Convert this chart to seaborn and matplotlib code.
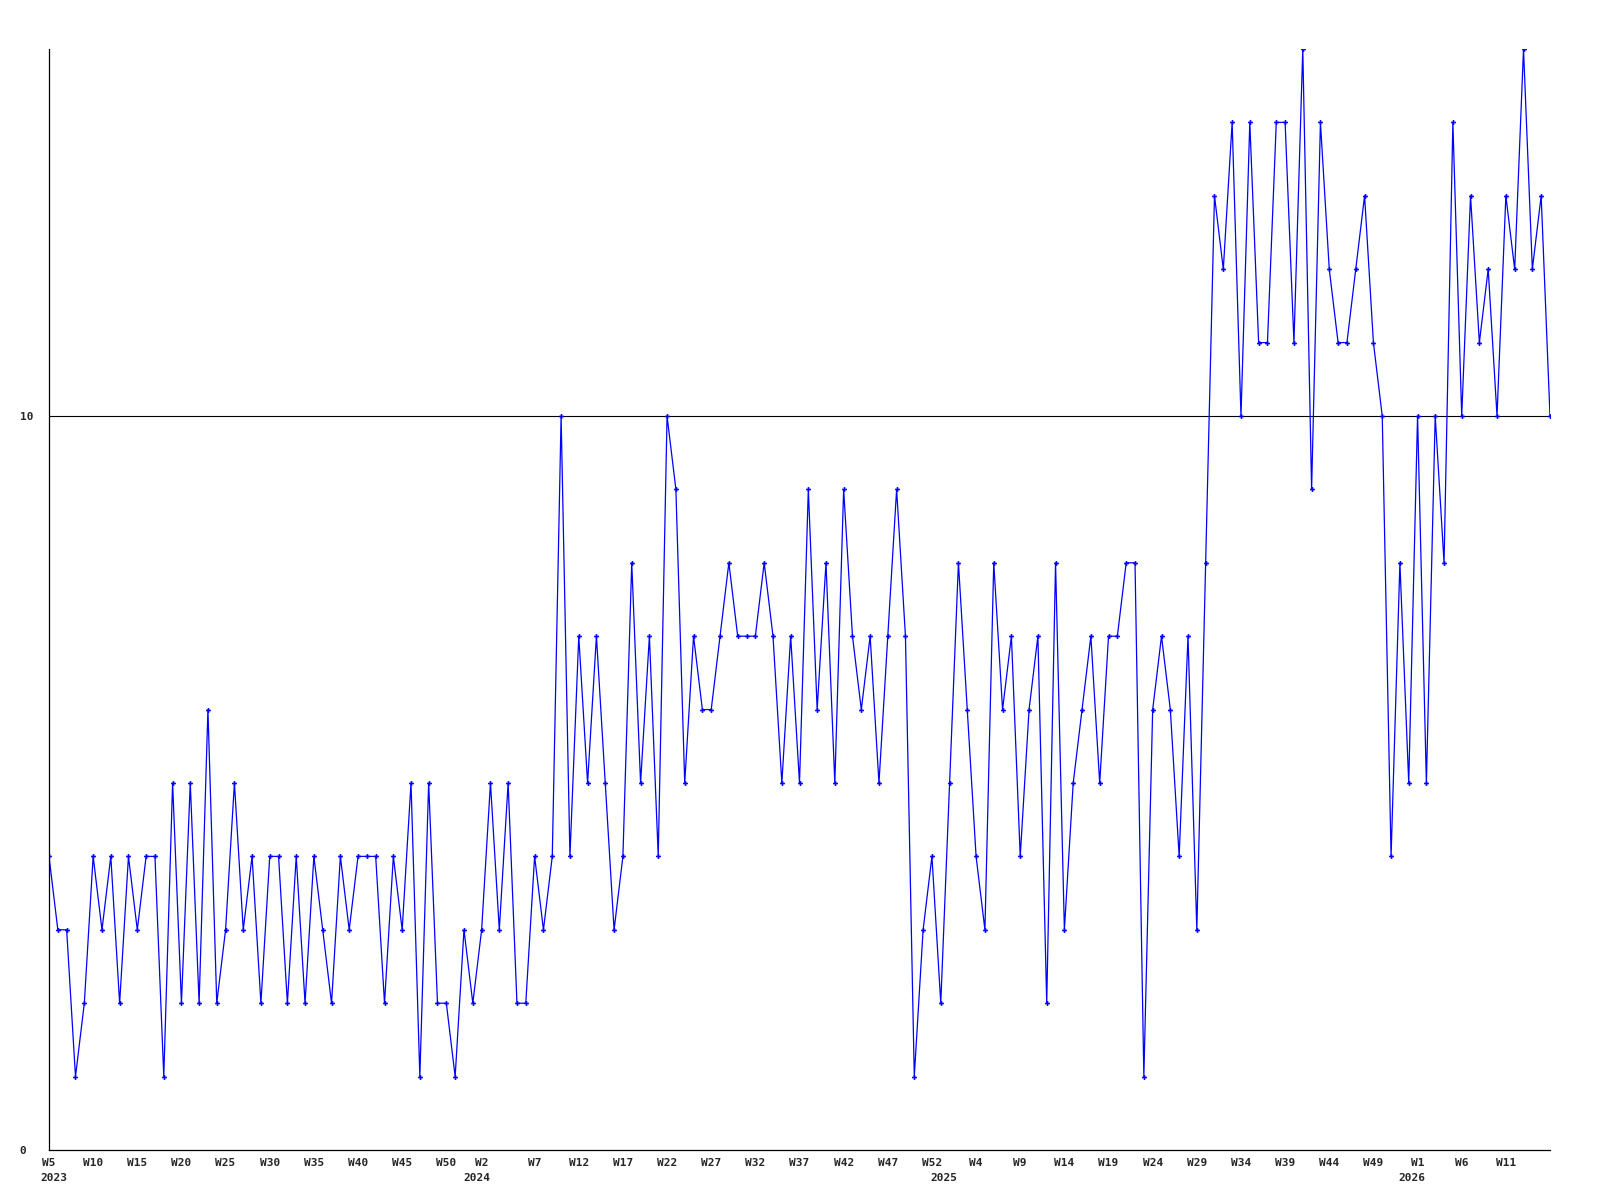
import numpy as np
import pandas as pd
import matplotlib
matplotlib.use("Agg")
import matplotlib.pyplot as plt
import seaborn as sns

# weekly counts, W5 2023 .. W15 2026
values = [4, 3, 3, 1, 2, 4, 3, 4, 2, 4,
          3, 4, 4, 1, 5, 2, 5, 2, 6, 2,
          3, 5, 3, 4, 2, 4, 4, 2, 4, 2,
          4, 3, 2, 4, 3, 4, 4, 4, 2, 4,
          3, 5, 1, 5, 2, 2, 1, 3, 2, 3,
          5, 3, 5, 2, 2, 4, 3, 4, 10, 4,
          7, 5, 7, 5, 3, 4, 8, 5, 7, 4,
          10, 9, 5, 7, 6, 6, 7, 8, 7, 7,
          7, 8, 7, 5, 7, 5, 9, 6, 8, 5,
          9, 7, 6, 7, 5, 7, 9, 7, 1, 3,
          4, 2, 5, 8, 6, 4, 3, 8, 6, 7,
          4, 6, 7, 2, 8, 3, 5, 6, 7, 5,
          7, 7, 8, 8, 1, 6, 7, 6, 4, 7,
          3, 8, 13, 12, 14, 10, 14, 11, 11, 14,
          14, 11, 15, 9, 14, 12, 11, 11, 12, 13,
          11, 10, 4, 8, 5, 10, 5, 10, 8, 14,
          10, 13, 11, 12, 10, 13, 12, 15, 12, 13,
          10]

tick_pos = [0, 5, 10, 15, 20, 25, 30, 35, 40, 45,
            49, 55, 60, 65, 70, 75, 80, 85, 90, 95,
            100, 105, 110, 115, 120, 125, 130, 135, 140, 145,
            150, 155, 160, 165]
tick_labels = ["W5", "W10", "W15", "W20", "W25", "W30", "W35", "W40", "W45", "W50",
               "W2", "W7", "W12", "W17", "W22", "W27", "W32", "W37", "W42", "W47",
               "W52", "W4", "W9", "W14", "W19", "W24", "W29", "W34", "W39", "W44",
               "W49", "W1", "W6", "W11"]
year_pos = [0.5, 48.5, 101.3, 154.3]
year_labels = ["2023", "2024", "2025", "2026"]

df = pd.DataFrame({"week": np.arange(len(values)), "count": values})

sns.set_style("white")
plt.rcParams['font.family'] = ['DejaVu Sans Mono', 'DejaVu Sans']

fig = plt.figure(figsize=(16, 12), dpi=100)
ax = fig.add_axes([49/1600, 1 - 1150/1200, (1550 - 49)/1600, (1150 - 49)/1200])

sns.lineplot(data=df, x="week", y="count", ax=ax, color="#0000ff", linewidth=0.9,
             marker="P", markersize=3.5, markeredgewidth=0, markerfacecolor="#0000ff")

ax.axhline(10, color="black", linewidth=0.8, zorder=0)

ax.set_xlim(0, len(values) - 1)
ax.set_ylim(0, 15)
ax.set_yticks([0, 10])
ax.set_yticklabels(["0", "10"], fontsize=8, fontweight="bold", ha="left")
ax.set_xticks(tick_pos)
ax.set_xticklabels(tick_labels, fontsize=8, fontweight="bold")
ax.tick_params(axis="y", length=0, pad=21)
ax.tick_params(axis="x", length=0, pad=5.5)
ax.set_xlabel("")
ax.set_ylabel("")

for p, lab in zip(year_pos, year_labels):
    ax.annotate(lab, xy=(p, 0), xycoords=("data", "axes fraction"),
                xytext=(0, -16.5), textcoords="offset points",
                ha="center", va="top", fontsize=8, fontweight="bold")

for s in ["top", "right"]:
    ax.spines[s].set_visible(False)
for s in ["left", "bottom"]:
    ax.spines[s].set_color("black")
    ax.spines[s].set_linewidth(0.9)

fig.savefig("out.png", dpi=100)
